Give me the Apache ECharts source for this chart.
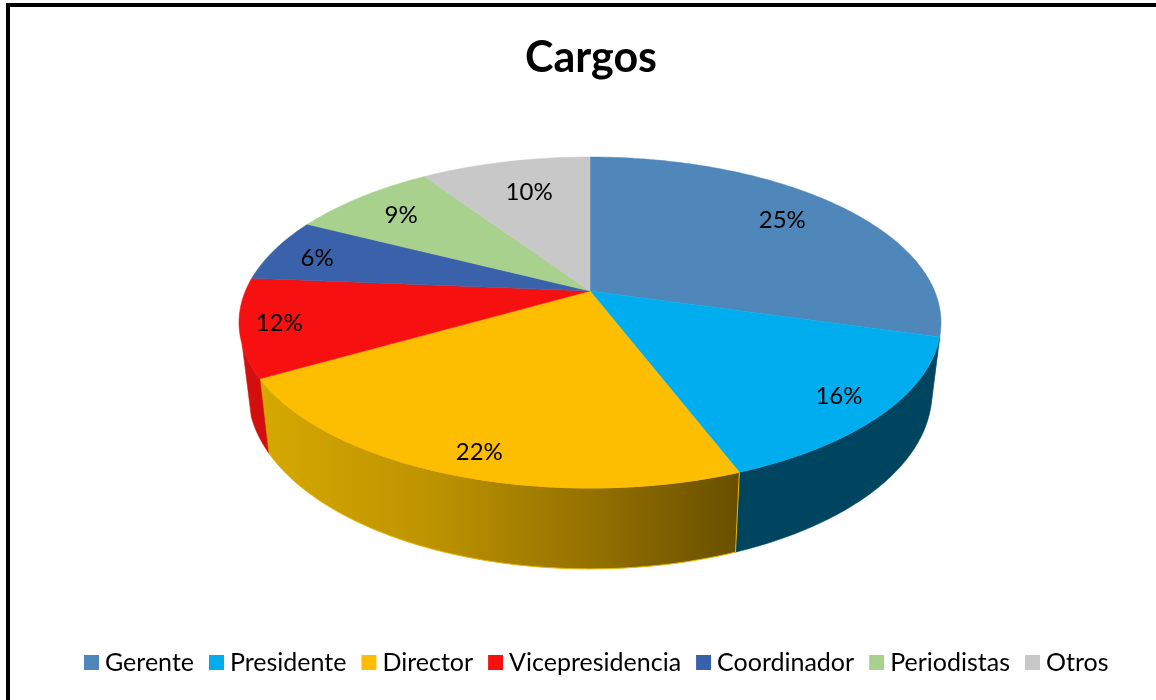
<!DOCTYPE html>
<html>
<head>
<meta charset="utf-8">
<title>Cargos</title>
<script src="https://cdn.jsdelivr.net/npm/echarts@6/dist/echarts.min.js"></script>
<style>
    html, body { margin: 0; padding: 0; background: #fff; }
    #chart { width: 1156px; height: 700px; }
</style>
</head>
<body>
<div id="chart"></div>
<script>
const chartTitle = 'Cargos';
const categories = ['Gerente', 'Presidente', 'Director', 'Vicepresidencia', 'Coordinador', 'Periodistas', 'Otros'];
// the printed percentages and the drawn slices disagree in the original, so both are kept
const percentLabels = ['25%', '16%', '22%', '12%', '6%', '9%', '10%'];
const sliceShares = [29.4, 14.8, 22.5, 9.6, 6.2, 8.1, 9.4];

const topColors = ['#4F87BA', '#00AEEF', '#FDBD00', '#F61010', '#3A62AA', '#A9D18E', '#C8C8C8'];
const FONT = 'Lato, "Open Sans", sans-serif';

// perspective of the disc
const CX = 590, CY = 291, A = 344.6, B = 159.5, K = 0.1903;
const WALL_FROM = 105.8, WALL_TO = 251.5;
// label placement: fraction of the radius, and a small turn in degrees
const labelRadius = [0.78, 0.87, 0.89, 0.89, 0.85, 0.8, 0.73];
const labelTurn = [-1.5, 0, -2, 0, -1.5, -0.5, 1];

function project(deg, r) {
    const t = deg * Math.PI / 180;
    const u = Math.sin(t) * r, v = -Math.cos(t) * r;
    const d = 1 - K * v;
    return [CX + A * u / d, CY + B * v / d];
}

function lower(p) {
    return [CX + 0.974 * (p[0] - CX), CY + 68.3 + 1.064 * (p[1] - CY)];
}

function arc(from, to) {
    const pts = [];
    const steps = Math.max(2, Math.ceil(Math.abs(to - from) / 1));
    for (let i = 0; i <= steps; i++) {
        pts.push(project(from + (to - from) * i / steps, 1));
    }
    return pts;
}

function wallFill(i) {
    if (i === 1) return '#00455F';
    if (i === 3) return '#D20E0E';
    if (i === 2) {
        return new echarts.graphic.LinearGradient(0, 0, 1, 0, [
            { offset: 0, color: '#D6A800' },
            { offset: 0.35, color: '#BE9400' },
            { offset: 0.7, color: '#937000' },
            { offset: 1, color: '#684F00' }
        ]);
    }
    return topColors[i];
}

function makeRenderItem(i) {
    return function (params, api) {
        const from = api.value(0) * 3.6, to = api.value(1) * 3.6;
        const children = [];

        const wa = Math.max(from, WALL_FROM), wb = Math.min(to, WALL_TO);
        if (wb > wa) {
            const rim = arc(wa, wb);
            const wall = rim.concat(rim.map(lower).reverse());
            children.push({
                type: 'polygon',
                z2: 1,
                shape: { points: wall },
                style: { fill: wallFill(i), stroke: i === 2 ? '#E8B400' : wallFill(i), lineWidth: i === 2 ? 1 : 0.5 }
            });
        }

        const top = [[CX, CY]].concat(arc(from, to));
        children.push({
            type: 'polygon',
            z2: 5,
            shape: { points: top },
            style: { fill: topColors[i], stroke: topColors[i], lineWidth: 0.5 }
        });

        const p = project((from + to) / 2 + labelTurn[i], labelRadius[i]);
        children.push({
            type: 'text',
            z2: 10,
            style: {
                x: p[0], y: p[1],
                text: percentLabels[i],
                font: '24px ' + FONT,
                fill: '#000',
                align: 'center',
                verticalAlign: 'middle'
            }
        });

        return { type: 'group', children: children };
    };
}

let cum = 0;
const series = categories.map((name, i) => {
    const start = cum;
    cum += sliceShares[i];
    return {
        name: name,
        type: 'custom',
        coordinateSystem: 'none',
        itemStyle: { color: topColors[i] },
        renderItem: makeRenderItem(i),
        encode: { value: [0, 1] },
        data: [[start, cum]]
    };
});

const myChart = echarts.init(document.getElementById('chart'));
myChart.setOption({
    animation: false,
    backgroundColor: '#fff',
    title: {
        text: chartTitle,
        left: 586,
        top: 32,
        textAlign: 'center',
        textStyle: { fontFamily: FONT, fontWeight: 'bold', fontSize: 43, color: '#000' }
    },
    legend: {
        left: 79,
        top: 645,
        itemWidth: 15,
        itemHeight: 15,
        itemGap: 15,
        icon: 'rect',
        selectedMode: false,
        data: categories,
        textStyle: { fontFamily: FONT, fontSize: 25, color: '#000', padding: [0, 0, 0, 1] }
    },
    graphic: [{
        type: 'polyline',
        shape: { points: [[8, 700], [8, 5], [1156, 5]] },
        style: { stroke: '#000', lineWidth: 4, fill: 'none' }
    }],
    series: series
});
</script>
</body>
</html>
